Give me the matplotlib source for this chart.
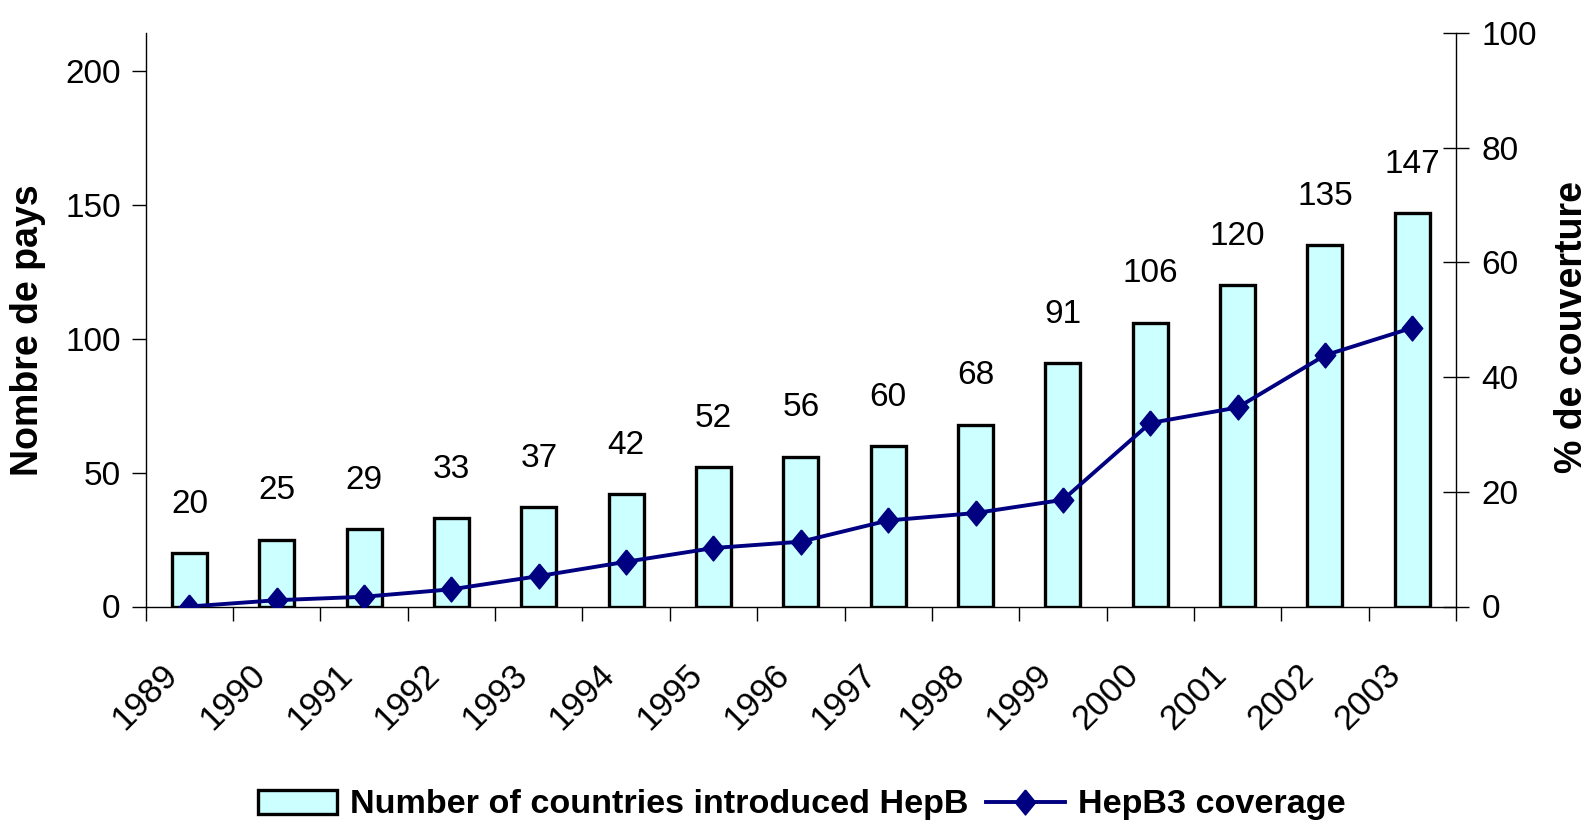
import matplotlib
matplotlib.use("Agg")
import matplotlib.pyplot as plt
import matplotlib.transforms as mtransforms
import numpy as np
from matplotlib.patches import Patch
from matplotlib.lines import Line2D

years = ["1989", "1990", "1991", "1992", "1993", "1994", "1995", "1996",
         "1997", "1998", "1999", "2000", "2001", "2002", "2003"]
countries = [20, 25, 29, 33, 37, 42, 52, 56, 60, 68, 91, 106, 120, 135, 147]
coverage = [0, 1.1, 1.7, 3.0, 5.3, 7.8, 10.2, 11.3, 15.0, 16.3, 18.6, 32.0, 34.7, 43.8, 48.6]
left_ticks = [0, 50, 100, 150, 200]
right_ticks = [0, 20, 40, 60, 80, 100]

plt.rcParams['font.family'] = ['Liberation Sans', 'DejaVu Sans']

fig = plt.figure(figsize=(15.91, 8.35), dpi=100)
ax = fig.add_axes([145.7/1591, 1-606.5/835, (1456-145.7)/1591, (606.5-33)/835])
ax2 = ax.twinx()

x = np.arange(len(years))
ax.bar(x, countries, width=0.40, color='#CCFFFF', edgecolor='black',
       linewidth=2.4, zorder=2)
for xi, v in zip(x, countries):
    ax.annotate(str(v), (xi, v), xytext=(0, 24), textcoords='offset points',
                ha='center', va='bottom', fontsize=24)

diamond = [(0, 1), (0.82, 0), (0, -1), (-0.82, 0), (0, 1)]
ax2.plot(x, coverage, color='#000080', linewidth=2.8, marker=diamond,
         markersize=18, markerfacecolor='#000080', markeredgecolor='#000080')

ax.set_xlim(-0.5, len(years) - 0.5)
ax.set_ylim(0, 214.3)
ax2.set_ylim(0, 100)

ax.set_yticks(left_ticks)
ax.set_yticklabels([str(t) for t in left_ticks], fontsize=24)
ax2.set_yticks(right_ticks)
ax2.set_yticklabels([str(t) for t in right_ticks], fontsize=24)

ax.set_xticks(x)
ax.set_xticklabels(years, fontsize=25, rotation=45, ha='right', va='top')
ax.set_xticks(np.arange(-0.5, len(years) + 0.5, 1), minor=True)
ax.tick_params(axis='x', which='major', length=0, pad=37)
ax.tick_params(axis='x', which='minor', length=10, width=1, direction='out')
offset = mtransforms.ScaledTranslation(-5/100, 0, fig.dpi_scale_trans)
for lab in ax.get_xticklabels():
    lab.set_transform(lab.get_transform() + offset)

ax.tick_params(axis='y', length=10, width=1, direction='out', pad=8)
ax2.tick_params(axis='y', length=19, width=1, direction='inout', pad=9)

ax.spines['top'].set_visible(False)
ax2.spines['top'].set_visible(False)
ax2.spines['left'].set_visible(False)
ax2.spines['bottom'].set_visible(False)
ax.spines['right'].set_visible(False)
for s in [ax.spines['left'], ax.spines['bottom'], ax2.spines['right']]:
    s.set_linewidth(1)

fig.text(28/1591, 1-330/835, 'Nombre de pays', rotation=90, fontsize=27,
         fontweight='bold', ha='center', va='center')
fig.text(1572/1591, 1-327/835, '% de couverture', rotation=90, fontsize=27,
         fontweight='bold', ha='center', va='center')

handles = [Patch(facecolor='#CCFFFF', edgecolor='black', linewidth=2.4),
           Line2D([0], [0], color='#000080', linewidth=2.8, marker=diamond,
                  markersize=18, markerfacecolor='#000080')]
labels = ['Number of countries introduced HepB', 'HepB3 coverage']
fig.legend(handles, labels, loc='center', bbox_to_anchor=(802/1591, 1-805/835),
           ncol=2, frameon=False, prop={'size': 24.6, 'weight': 'bold'},
           handlelength=2.3, handletextpad=0.4, columnspacing=0.5)

fig.savefig('out.png', dpi=100)
